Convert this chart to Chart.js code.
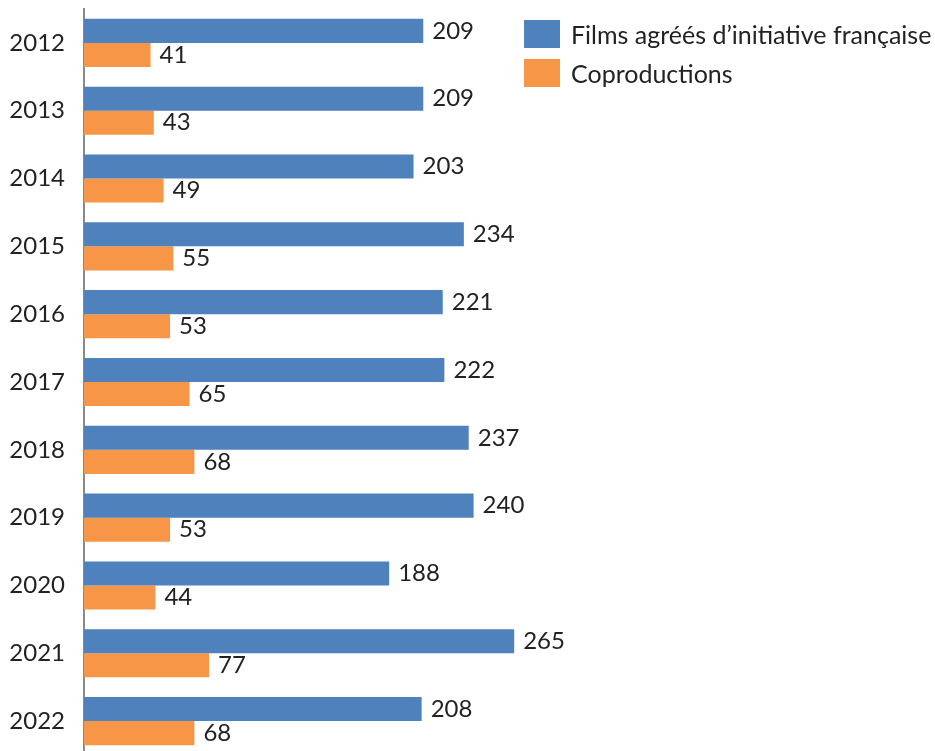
<!DOCTYPE html>
<html>
<head>
<meta charset="utf-8">
<script src="https://cdn.jsdelivr.net/npm/chart.js@4"></script>
<style>
  html, body { margin: 0; padding: 0; background: #fff; overflow: hidden; }
  #wrap { position: relative; width: 935px; height: 755px; }
  #legend { position: absolute; left: 524px; top: 20px; font-family: Lato, sans-serif; font-size: 25px; color: #222; }
  #legend .item { display: flex; align-items: center; height: 28px; margin-bottom: 11px; }
  #legend .box { width: 36px; height: 28px; margin-right: 11px; }
</style>
</head>
<body>
<div id="wrap">
  <canvas id="chart"></canvas>
  <div id="legend"></div>
</div>
<script>
// ===== data =====
const years = ['2012', '2013', '2014', '2015', '2016', '2017', '2018', '2019', '2020', '2021', '2022'];
const filmsFR = [209, 209, 203, 234, 221, 222, 237, 240, 188, 265, 208];
const coprods = [41, 43, 49, 55, 53, 65, 68, 53, 44, 77, 68];
const seriesNames = ['Films agréés d\u2019initiative française', 'Coproductions'];
const seriesColors = ['#4F81BD', '#F79646'];

const FONT = 'Lato, sans-serif';

// valeurs au bout des barres
const barValues = {
  id: 'barValues',
  afterDatasetsDraw(chart) {
    const ctx = chart.ctx;
    ctx.save();
    ctx.font = '24px ' + FONT;
    ctx.fillStyle = '#222';
    ctx.textBaseline = 'middle';
    ctx.textAlign = 'left';
    chart.data.datasets.forEach((ds, i) => {
      chart.getDatasetMeta(i).data.forEach((bar, j) => {
        ctx.fillText(ds.data[j], bar.x + 9, bar.y);
      });
    });
    ctx.restore();
  }
};

new Chart(document.getElementById('chart'), {
  type: 'bar',
  data: {
    labels: years,
    datasets: [
      { label: seriesNames[0], data: filmsFR, backgroundColor: seriesColors[0] },
      { label: seriesNames[1], data: coprods, backgroundColor: seriesColors[1] }
    ]
  },
  options: {
    indexAxis: 'y',
    responsive: true,
    maintainAspectRatio: false,
    animation: false,
    categoryPercentage: 0.71,
    barPercentage: 1,
    layout: { padding: { top: 9, right: 364, left: 0, bottom: 0 } },
    plugins: { legend: { display: false }, tooltip: { enabled: false } },
    scales: {
      x: { display: false, min: 0, max: 300 },
      y: {
        afterFit: s => { s.width = 84; s.paddingTop = 0; s.paddingBottom = 0; },
        grid: { display: false },
        border: { display: true, color: '#8a8a8a', width: 2 },
        ticks: { color: '#222', padding: 11, font: { family: FONT, size: 24 } }
      }
    }
  },
  plugins: [barValues]
});

// legende
document.getElementById('legend').innerHTML = seriesNames.map((n, i) => `
  <div class="item"><span class="box" style="background:${seriesColors[i]}"></span>${n}</div>
`).join('');
</script>
</body>
</html>
